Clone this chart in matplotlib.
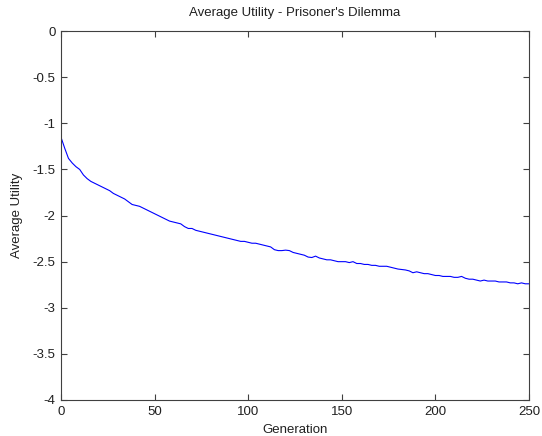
import numpy as np
import matplotlib
matplotlib.use("Agg")
import matplotlib.pyplot as plt

plt.rcParams['font.family'] = ['Liberation Sans', 'DejaVu Sans']

# generation numbers (every 2nd generation) and average utility
generation = list(range(0, 251, 2))
avg_utility = [
    -1.15, -1.27, -1.38, -1.43, -1.47, -1.50, -1.56, -1.60, -1.63, -1.65,
    -1.67, -1.69, -1.71, -1.73, -1.76, -1.78, -1.80, -1.82, -1.85, -1.88,
    -1.89, -1.90, -1.92, -1.94, -1.96, -1.98, -2.00, -2.02, -2.04, -2.06,
    -2.07, -2.08, -2.09, -2.12, -2.14, -2.14, -2.16, -2.17, -2.18, -2.19,
    -2.20, -2.21, -2.22, -2.23, -2.24, -2.25, -2.26, -2.27, -2.28, -2.28,
    -2.29, -2.30, -2.30, -2.31, -2.32, -2.33, -2.34, -2.37, -2.38, -2.38,
    -2.375, -2.38, -2.40, -2.41, -2.42, -2.43, -2.45, -2.455, -2.44, -2.46,
    -2.47, -2.48, -2.48, -2.49, -2.50, -2.50, -2.50, -2.51, -2.50, -2.52,
    -2.52, -2.53, -2.53, -2.54, -2.54, -2.55, -2.55, -2.55, -2.56, -2.57,
    -2.58, -2.585, -2.59, -2.60, -2.62, -2.61, -2.62, -2.63, -2.63, -2.64,
    -2.65, -2.65, -2.66, -2.66, -2.66, -2.67, -2.67, -2.66, -2.68, -2.69,
    -2.69, -2.70, -2.71, -2.70, -2.71, -2.71, -2.71, -2.72, -2.72, -2.72,
    -2.73, -2.73, -2.74, -2.73, -2.74, -2.74,
]

xticks = [0, 50, 100, 150, 200, 250]
yticks = [0, -0.5, -1, -1.5, -2, -2.5, -3, -3.5, -4]
ytick_labels = ['0', '-0.5', '-1', '-1.5', '-2', '-2.5', '-3', '-3.5', '-4']

fig = plt.figure(figsize=(5.42, 4.36), dpi=100)
fig.patch.set_facecolor('white')
ax = fig.add_axes([0.1125, 0.0826, 0.8635, 0.846])

ax.plot(generation, avg_utility, color='#0000ff', lw=0.8)

ax.set_xlim(0, 250)
ax.set_ylim(-4, 0)
ax.set_xticks(xticks)
ax.set_yticks(yticks)
ax.set_yticklabels(ytick_labels)

for s in ax.spines.values():
    s.set_color('#404040')
    s.set_linewidth(0.8)
ax.tick_params(direction='in', top=True, right=True, length=4, width=0.8,
               color='#404040', labelsize=9.5, labelcolor='#202020', pad=4)

ax.set_title("Average Utility - Prisoner's Dilemma", fontsize=9.5, pad=11, color='#202020')
ax.set_xlabel('Generation', fontsize=9.5, labelpad=5, color='#202020')
ax.set_ylabel('Average Utility', fontsize=9.5, labelpad=7, color='#202020')

fig.savefig('out.png', dpi=100, facecolor='white')
